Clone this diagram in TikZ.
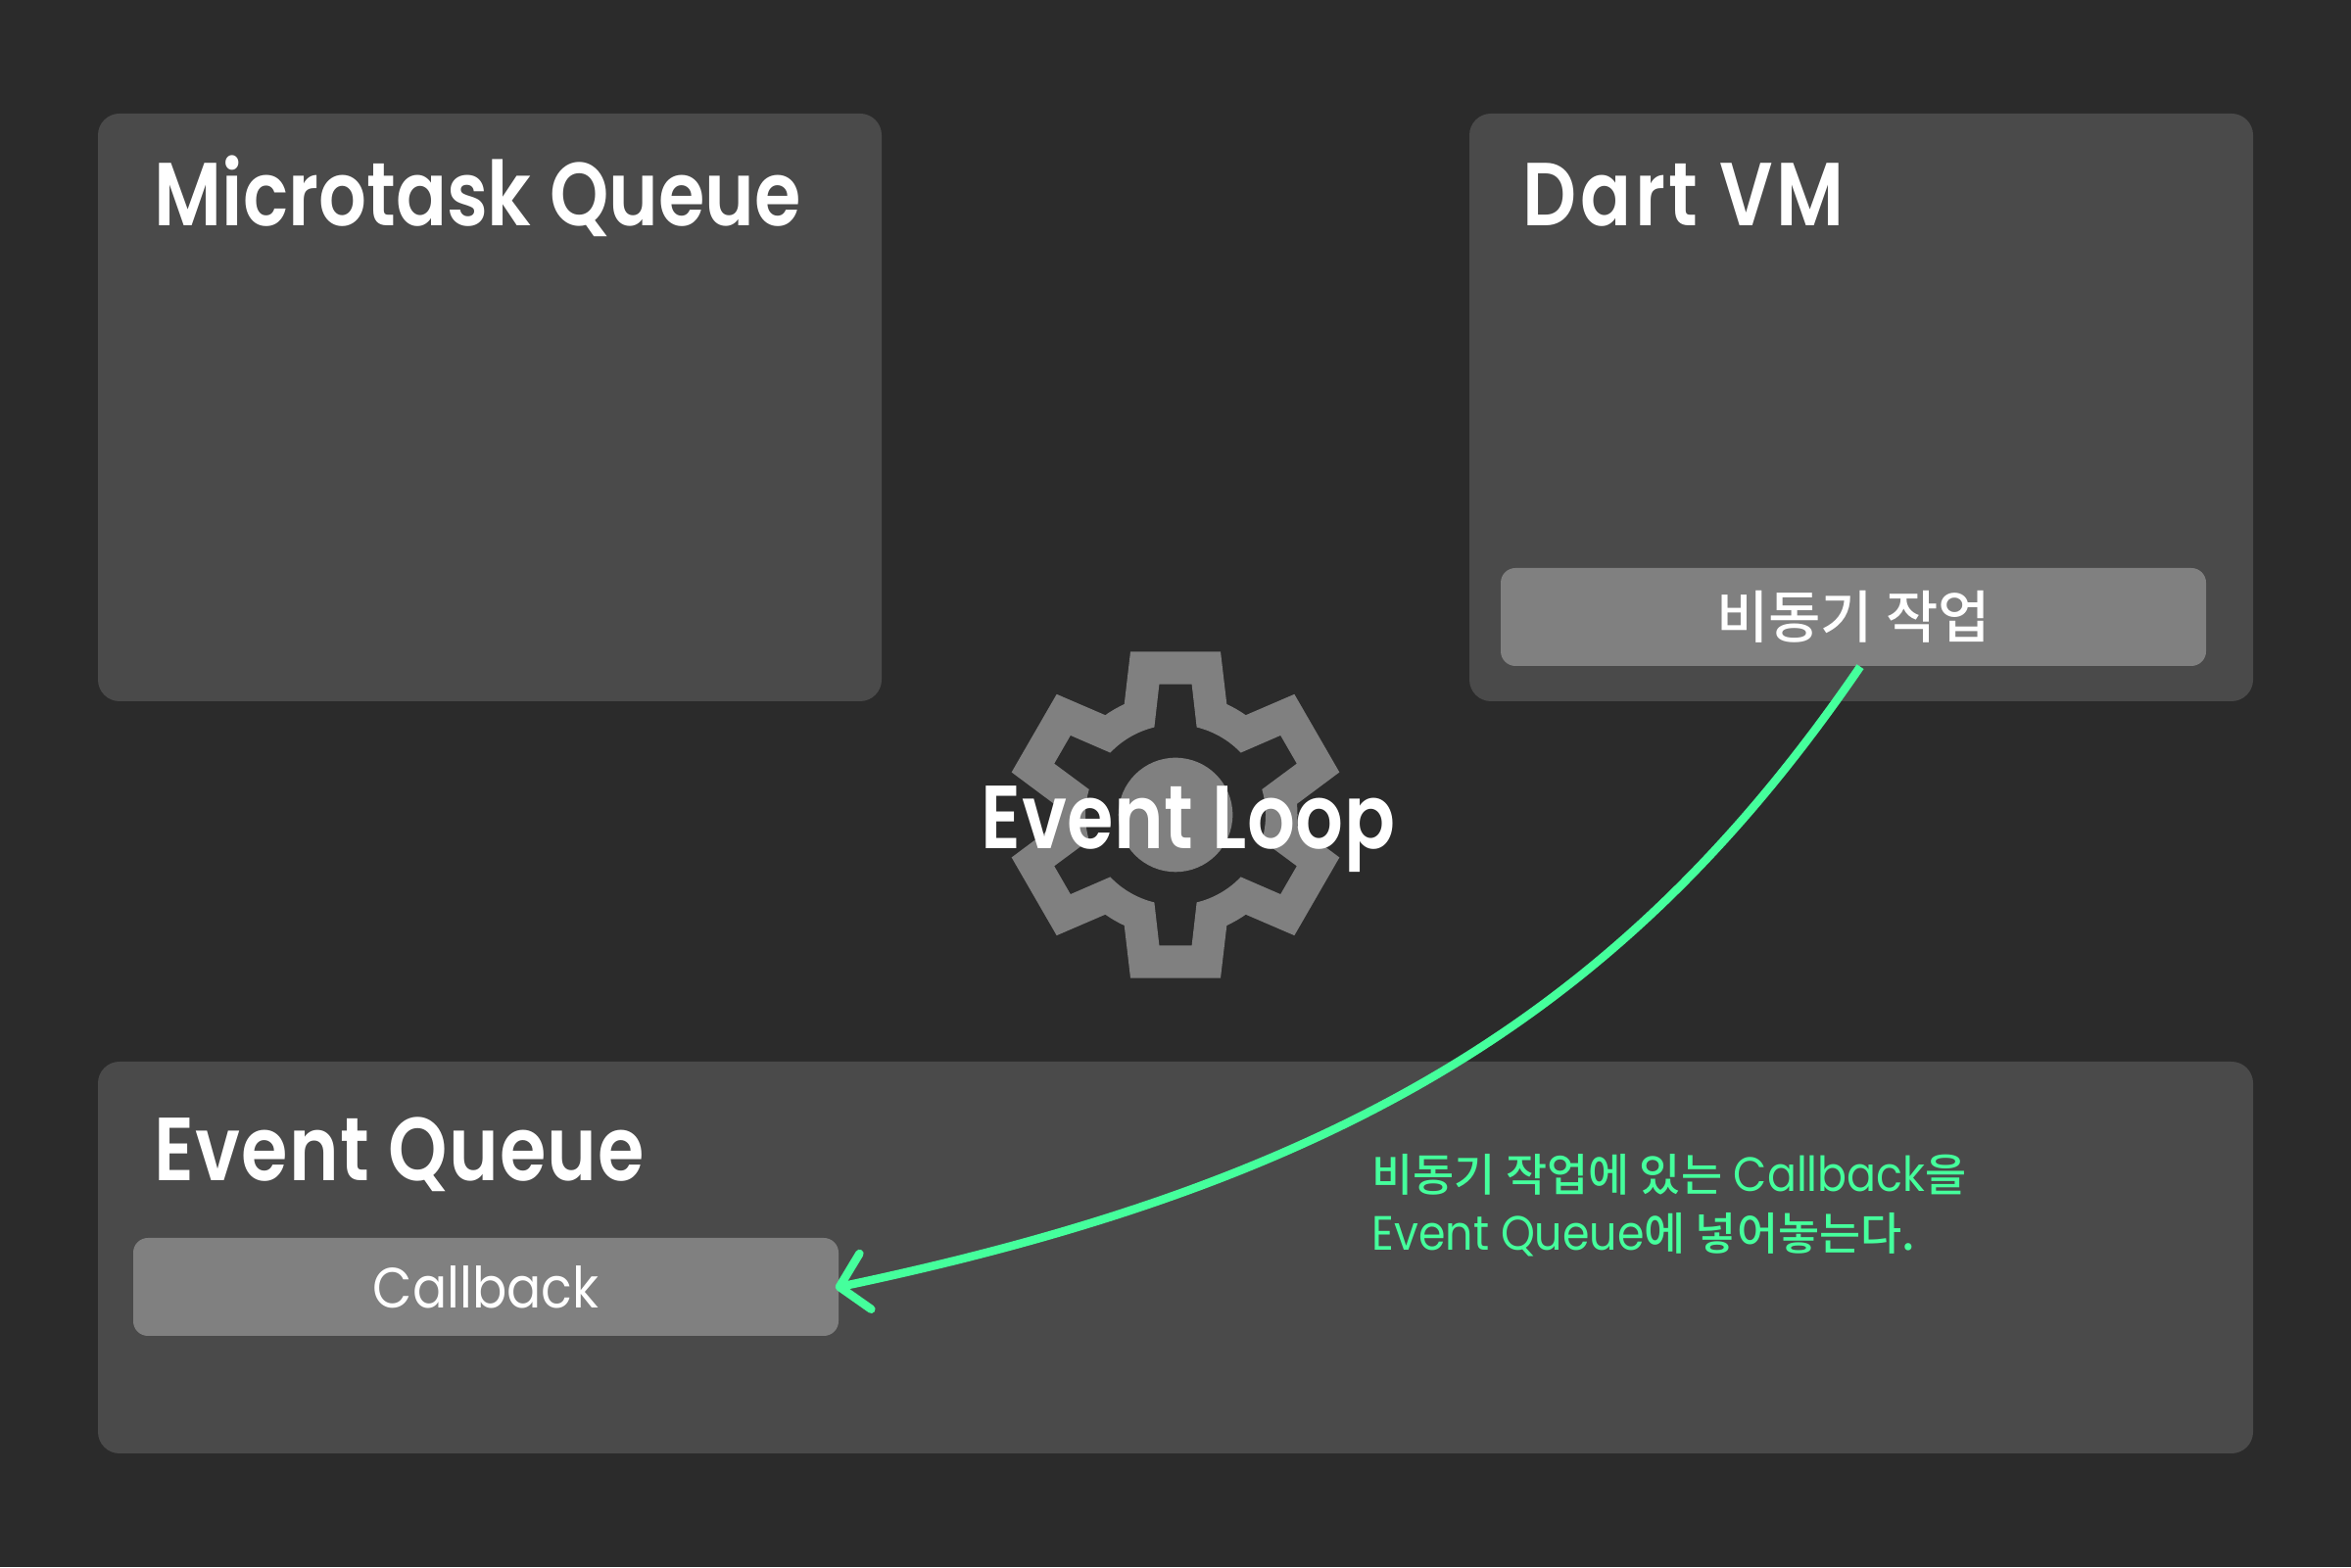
\documentclass[tikz,border=0pt]{standalone}
\usepackage{fontspec}
\setmainfont{Poppins}[FakeStretch=0.9,BoldFont={Poppins SemiBold},BoldFeatures={FakeStretch=0.84}]
\newfontfamily\cjk{Noto Sans CJK KR Medium}
\newfontfamily\cjknote{Noto Sans CJK KR Medium}[Scale=0.93]
\usetikzlibrary{arrows.meta,calc,positioning}
\definecolor{bgdark}{HTML}{2B2B2B}
\definecolor{panelgray}{HTML}{4A4A4A}
\definecolor{boxgray}{HTML}{808080}
\definecolor{flowgreen}{HTML}{45FF9C}
\tikzset{
  panel/.style={fill=panelgray,rounded corners=0.22cm,inner sep=0pt},
  taskbox/.style={fill=boxgray,rounded corners=0.15cm,inner sep=0pt,minimum width=7.2cm,minimum height=1cm,text=white,font=\fontsize{16.5}{20}\selectfont},
  paneltitle/.style={anchor=base west,inner sep=0pt,text=white,font=\fontsize{26}{30}\selectfont\bfseries},
  flow/.style={flowgreen,line width=0.085cm,shorten >=-0.04cm,-{Straight Barb[length=0.27cm,width=0.58cm,round]}}
}
\begin{document}
\begin{tikzpicture}
\useasboundingbox (0,0) rectangle (24,16);
\fill[bgdark] (0,0) rectangle (24,16);
% queues and vm
\node[panel,minimum width=8cm,minimum height=6cm] (microtask) at (5,11.84) {};
\node[panel,minimum width=8cm,minimum height=6cm] (dartvm) at (19,11.84) {};
\node[panel,minimum width=22cm,minimum height=4cm] (eventqueue) at (12,3.16) {};
\node[paneltitle] (microtasktitle) at (1.57,13.69) {Microtask Queue};
\node[paneltitle] (dartvmtitle) at (15.54,13.69) {\addfontfeature{LetterSpace=4}Dart VM};
\node[paneltitle] (eventqueuetitle) at (1.57,3.94) {\addfontfeature{LetterSpace=1.3}Event Queue};
% tasks
\node[taskbox] (asynctask) at (18.92,9.7) {\cjk 비동기 작업};
\node[taskbox] (callback) at (4.96,2.86) {Callback};
% gear
\begin{scope}[shift={(12,7.68)}]
\fill[boxgray,even odd rule] (114.84:1.245)
  \foreach \a in {90,30,...,-210}{
    -- (\a+15.43:1.729) -- (\a-15.43:1.729) -- (\a-24.84:1.245)
    arc[start angle=\a-24.84,end angle=\a-35.16,radius=1.245]
  } -- cycle
  (103.6:0.92)
  \foreach \a in {90,30,...,-210}{
    -- (\a+7.1:1.344) -- (\a-7.1:1.344) -- (\a-13.6:0.92)
    arc[start angle=\a-13.6,end angle=\a-46.4,radius=0.92]
  } -- cycle
  (0,0) circle (0.583);
\end{scope}
\node[paneltitle,anchor=base] (eventloop) at (12.13,7.33) {\addfontfeature{LetterSpace=0.6}Event Loop};
% callback is moved over
\draw[flow] ([xshift=0.07cm]asynctask.south) .. controls (16.6,5.7) and (13.75,3.95) .. (callback.east);
\node[anchor=north west,inner sep=0pt,align=left,text=flowgreen,font=\fontsize{14}{17}\selectfont] (flownote) at (14,4.22)
  {{\cjknote 비동기 작업에 있는} Callback{\cjknote 을}\\Event Queue{\cjknote 에 넣어놓는다.}};
\end{tikzpicture}
\end{document}
